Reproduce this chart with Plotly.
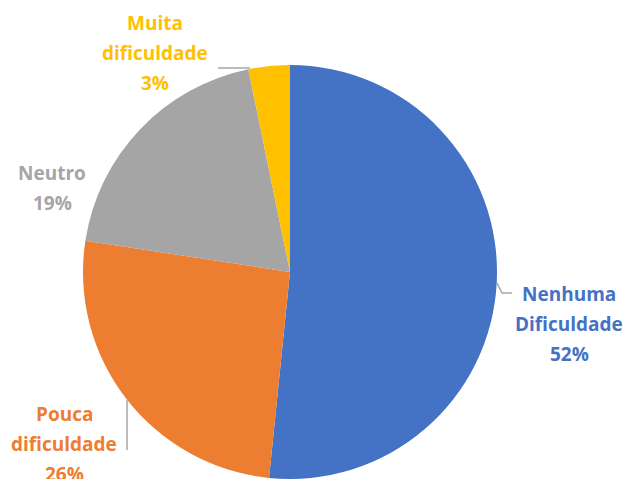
import plotly.graph_objects as go

categories = ["Nenhuma Dificuldade", "Pouca dificuldade", "Neutro", "Muita dificuldade"]
label_lines = [["Nenhuma", "Dificuldade"], ["Pouca", "dificuldade"], ["Neutro"], ["Muita", "dificuldade"]]
counts = [16, 8, 6, 1]          # respondents; shown as 52%, 26%, 19%, 3%
colors = ["#4472C4", "#ED7D31", "#A5A5A5", "#FFC000"]

W, H = 627, 479

fig = go.Figure(go.Pie(
    labels=categories, values=counts, sort=False, direction="clockwise", rotation=0,
    marker=dict(colors=colors, line=dict(width=0)),
    textinfo="none", hoverinfo="label+percent", showlegend=False,
    domain=dict(x=[82 / W, 498 / W], y=[0, 414 / H]),
))

total = sum(counts)
percents = [round(100 * c / total) for c in counts]

# label block placement (pixel centre x, first line y)
label_pos = [(569, 294), (64, 414), (52, 173), (155, 23)]
line_step = 30

def px(x, y):
    return x / W, 1 - y / H

annotations = []
for lines, p, c, (cx, cy) in zip(label_lines, percents, colors, label_pos):
    texts = lines + [f"{p}%"]
    for i, t in enumerate(texts):
        x, y = px(cx, cy + i * line_step)
        annotations.append(dict(
            x=x, y=y, xref="paper", yref="paper", text=f"<b>{t}</b>", showarrow=False,
            xanchor="center", yanchor="middle",
            font=dict(family="Open Sans", size=19, color=c)))

leaders = [
    [(497, 283), (502, 293), (512, 293)],
    [(127, 400), (127, 450)],
    [(218, 68), (250, 68)],
]
shapes = []
for pts in leaders:
    path = "M " + " L ".join(f"{px(x, y)[0]},{px(x, y)[1]}" for x, y in pts)
    shapes.append(dict(type="path", path=path, xref="paper", yref="paper",
                       line=dict(color="#A6A6A6", width=1.5)))

fig.update_layout(
    width=W, height=H, margin=dict(l=0, r=0, t=0, b=0),
    paper_bgcolor="white", plot_bgcolor="white",
    annotations=annotations, shapes=shapes,
)

fig.write_html("out.html")
